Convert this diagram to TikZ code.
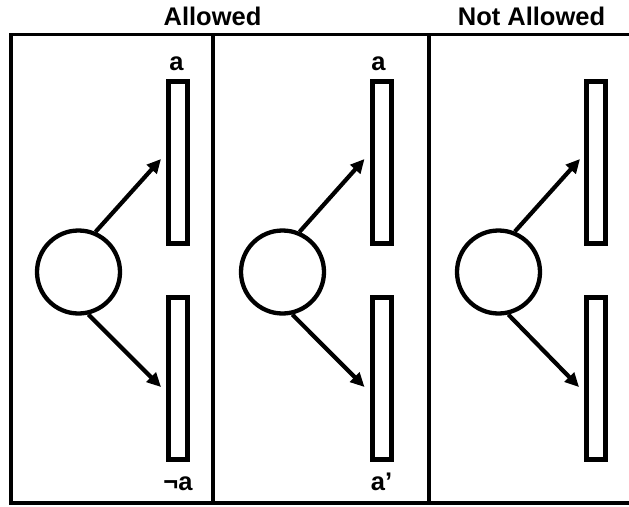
\documentclass[tikz,border=0pt]{standalone}
\usepackage{fontspec}
\setmainfont{Liberation Sans}
\usetikzlibrary{arrows.meta,calc}
\tikzset{
  src/.style={draw, circle, line width=4.3pt, minimum size=83pt, inner sep=0pt},
  bar/.style={draw, rectangle, line width=5pt, minimum width=19pt, minimum height=162pt, inner sep=0pt},
  arr/.style={line width=4.2pt, -{Triangle[length=14pt,width=13pt]}},
  frame/.style={line width=3.2pt},
  lbl/.style={font=\fontsize{25.5}{30}\selectfont\bfseries, anchor=base, inner sep=0pt},
}
\begin{document}
\begin{tikzpicture}[x=1pt,y=-1pt]
\useasboundingbox (0,0) rectangle (629,506);
% frame
\draw[frame] (11,34.5) rectangle (633,503);
\coordinate (d1t) at (213,34.5); \coordinate (d1b) at (213,503);
\coordinate (d2t) at (429,34.5); \coordinate (d2b) at (429,503);
\draw[frame] (d1t) -- (d1b);
\draw[frame] (d2t) -- (d2b);
% titles
\node[lbl] (ttl1) at (212.5,25) {Allowed};
\node[lbl] (ttl2) at (531.5,25) {Not Allowed};
% panel 1
\node[src] (c1) at (78.5,272) {};
\node[bar] (t1) at (178,162) {};
\node[bar] (b1) at (178,378) {};
\draw[arr] (c1.67) -- ($(t1.west)+(-5,-3)$);
\draw[arr] (c1.-77) -- ($(b1.west)+(-5,9)$);
\node[lbl] (la1) at (176.5,70) {a};
\node[lbl] (lb1) at (178,490) {¬a};
% panel 2
\node[src] (c2) at (282.5,272) {};
\node[bar] (t2) at (381.5,162) {};
\node[bar] (b2) at (381.5,378) {};
\draw[arr] (c2.67) -- ($(t2.west)+(-5,-3)$);
\draw[arr] (c2.-77) -- ($(b2.west)+(-5,9)$);
\node[lbl] (la2) at (378.5,70) {a};
\node[lbl] (lb2) at (381.5,490) {a’};
% panel 3
\node[src] (c3) at (498.5,272) {};
\node[bar] (t3) at (596,162) {};
\node[bar] (b3) at (596,378) {};
\draw[arr] (c3.68) -- ($(t3.west)+(-4,-3)$);
\draw[arr] (c3.-77) -- ($(b3.west)+(-5,9)$);
\end{tikzpicture}
\end{document}
